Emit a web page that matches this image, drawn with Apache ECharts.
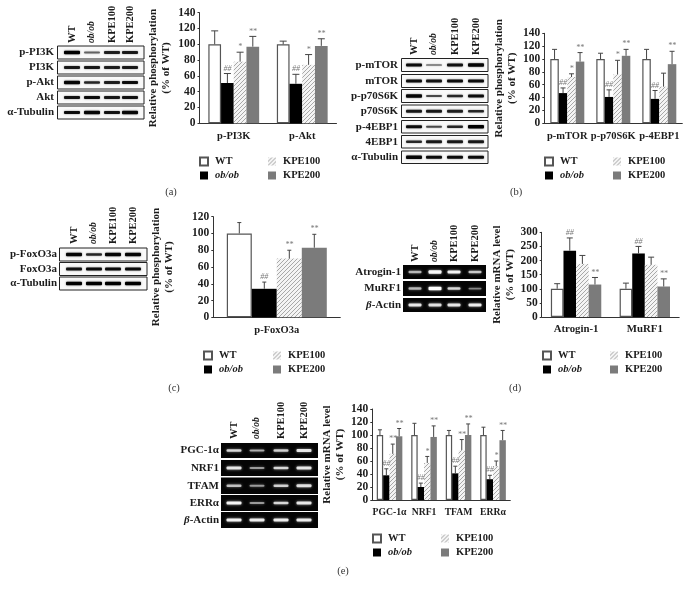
<!DOCTYPE html>
<html><head><meta charset="utf-8">
<style>html,body{margin:0;padding:0;background:#fff}#c{width:689px;height:592px}</style>
<script src="https://cdn.jsdelivr.net/npm/echarts@6/dist/echarts.min.js"></script>
</head><body><div id="c"></div>
<script>
// ---------- data ----------
var groupNames = ['WT', 'ob/ob', 'KPE100', 'KPE200'];

var catsA = ['p-PI3K', 'p-Akt'];
var wtA = [100, 100], obA = [51, 50], k100A = [78, 74], k200A = [97, 98];
var wtErrA = [117, 104], obErrA = [63, 62], k100ErrA = [90, 87], k200ErrA = [110, 107];
var obSigA = ['##', '##'], k100SigA = ['*', '*'], k200SigA = ['**', '**'];

var catsB = ['p-mTOR', 'p-p70S6K', 'p-4EBP1'];
var wtB = [100, 100, 100], obB = [47, 41, 38], k100B = [72, 76, 57], k200B = [96, 105, 92];
var wtErrB = [115, 109, 115], obErrB = [55, 52, 51], k100ErrB = [77, 98, 78], k200ErrB = [110, 115, 112];
var obSigB = ['##', '##', '##'], k100SigB = ['*', '*', ''], k200SigB = ['**', '**', '**'];

var catsC = ['p-FoxO3a'];
var wtC = [100], obC = [34], k100C = [70], k200C = [83];
var wtErrC = [113], obErrC = [42], k100ErrC = [80], k200ErrC = [99];
var obSigC = ['##'], k100SigC = ['**'], k200SigC = ['**'];

var catsD = ['Atrogin-1', 'MuRF1'];
var wtD = [100, 100], obD = [235, 225], k100D = [188, 185], k200D = [115, 108];
var wtErrD = [118, 120], obErrD = [280, 250], k100ErrD = [218, 212], k200ErrD = [140, 135];
var obSigD = ['##', '##'], k100SigD = ['', ''], k200SigD = ['**', '**'];

var catsE = ['PGC-1α', 'NRF1', 'TFAM', 'ERRα'];
var wtE = [100, 100, 100, 100], obE = [38, 20, 41, 32], k100E = [71, 57, 77, 52], k200E = [98, 97, 100, 92];
var wtErrE = [108, 118, 107, 112], obErrE = [48, 26, 52, 38], k100ErrE = [86, 67, 93, 60], k200ErrE = [110, 114, 117, 107];
var obSigE = ['##', '##', '##', '##'], k100SigE = ['**', '*', '**', '*'], k200SigE = ['**', '**', '**', '**'];

// blot band labels and band strengths (0..1) per lane
var blotLabelsA = ['p-PI3K', 'PI3K', 'p-Akt', 'Akt', 'α-Tubulin'];
var blotLevelsA = [[1, .35, .75, .8], [.8, .8, .75, .8], [.95, .7, .75, .9], [.85, .9, .8, .85], [.9, .95, .85, .95]];
var blotLabelsB = ['p-mTOR', 'mTOR', 'p-p70S6K', 'p70S6K', 'p-4EBP1', '4EBP1', 'α-Tubulin'];
var blotLevelsB = [[.9, .3, .85, .95], [.9, .85, .9, .9], [.95, .5, .7, .9], [.8, .8, .75, .7], [.9, .5, .7, 1], [.7, .8, .8, .8], [.95, .9, .9, .9]];
var blotLabelsC = ['p-FoxO3a', 'FoxO3a', 'α-Tubulin'];
var blotLevelsC = [[.95, .7, .95, .95], [.85, .9, .9, .9], [1, 1, 1, 1]];
var blotLabelsD = ['Atrogin-1', 'MuRF1', 'β-Actin'];
var blotLevelsD = [[.5, .95, .9, .6], [.5, 1, .7, .25], [.8, .75, .8, .85]];
var blotLabelsE = ['PGC-1α', 'NRF1', 'TFAM', 'ERRα', 'β-Actin'];
var blotLevelsE = [[.7, .45, .65, .8], [.8, .35, .7, .8], [.55, .35, .65, .75], [.9, .35, .7, .8], [.9, .85, .85, .85]];

// ---------- look ----------
var serif = '"Liberation Serif", serif';
var ink = '#1c1c1c';
var hatch = (function () {
  var c = document.createElement('canvas'); c.width = 4; c.height = 4;
  var g = c.getContext('2d'); g.fillStyle = '#f4f4f4'; g.fillRect(0, 0, 4, 4);
  g.strokeStyle = '#a8a8a8'; g.lineWidth = 1;
  g.beginPath(); g.moveTo(-1, 1); g.lineTo(1, -1); g.moveTo(0, 4); g.lineTo(4, 0); g.moveTo(3, 5); g.lineTo(5, 3); g.stroke();
  return c;
})();
var groupStyles = [
  { color: '#fff', borderColor: '#555', borderWidth: 1.2 },
  { color: '#000' },
  { color: { image: hatch, repeat: 'repeat' } },
  { color: '#7b7b7b' }
];

var grid = [], xAxis = [], yAxis = [], series = [], legend = [];
function panel(p) {
  var idx = grid.length;
  grid.push({ left: p.l, top: p.t, width: p.w, height: p.h });
  xAxis.push({
    type: 'category', gridIndex: idx, data: p.cats,
    axisLine: { lineStyle: { color: '#333', width: 1 } },
    axisTick: { length: 2, lineStyle: { color: '#333' } },
    axisLabel: { interval: 0, color: ink, fontFamily: serif, fontWeight: 'bold', fontSize: p.catSize, margin: 7 }
  });
  yAxis.push({
    type: 'value', gridIndex: idx, min: 0, max: p.max, interval: p.step,
    name: p.yName, nameLocation: 'middle', nameGap: p.nameGap, nameRotate: 90,
    nameTextStyle: { color: ink, fontFamily: serif, fontWeight: 'bold', fontSize: 11, lineHeight: 13 },
    splitLine: { show: false },
    axisLine: { show: true, lineStyle: { color: '#333', width: 1 } },
    axisTick: { show: true, length: 2, lineStyle: { color: '#333' } },
    axisLabel: { color: ink, fontFamily: serif, fontWeight: 'bold', fontSize: 11.5, margin: 4 }
  });
  p.vals.forEach(function (v, i) {
    series.push({
      type: 'bar', name: groupNames[i], xAxisIndex: idx, yAxisIndex: idx, data: v,
      barWidth: p.bw, barGap: 0, itemStyle: groupStyles[i], silent: true, animation: false
    });
  });
  p.vals.forEach(function (v, i) {
    series.push({
      type: 'custom', name: 'err-' + idx + '-' + i, xAxisIndex: idx, yAxisIndex: idx, z: 5, silent: true, animation: false,
      data: v.map(function (b, c) { return [c, b, p.errs[i][c]]; }),
      encode: { x: 0, y: [1, 2] },
      renderItem: function (params, api) {
        var base = api.coord([api.value(0), api.value(1)]);
        var top = api.coord([api.value(0), api.value(2)]);
        var x = base[0] + (i - 1.5) * p.bw;
        var sig = p.sigs[i] ? p.sigs[i][params.dataIndex] : '';
        var cap = p.cap;
        return { type: 'group', children: [
          { type: 'line', shape: { x1: x, y1: base[1], x2: x, y2: top[1] }, style: { stroke: '#444', lineWidth: 1 } },
          { type: 'line', shape: { x1: x - cap, y1: top[1], x2: x + cap, y2: top[1] }, style: { stroke: '#444', lineWidth: 1 } },
          { type: 'text', x: x, y: top[1] - 1, style: { text: sig || '', align: 'center', verticalAlign: 'bottom', fill: '#777', font: 'italic 8px ' + serif } }
        ] };
      }
    });
  });
  // two legend columns
  [[0, 1, p.lx[0]], [2, 3, p.lx[1]]].forEach(function (col) {
    legend.push({
      orient: 'vertical', left: col[2], top: p.ly, padding: 0, itemWidth: 8, itemHeight: 8, itemGap: 3,
      selectedMode: false, icon: 'rect',
      textStyle: { color: ink, fontFamily: serif, fontWeight: 'bold', fontSize: 10.5, padding: [0, 0, 0, 2] },
      data: [col[0], col[1]].map(function (k) {
        return { name: groupNames[k], textStyle: k === 1 ? { fontStyle: 'italic' } : {} };
      })
    });
  });
}

panel({ cats: catsA, vals: [wtA, obA, k100A, k200A], errs: [wtErrA, obErrA, k100ErrA, k200ErrA], sigs: [null, obSigA, k100SigA, k200SigA],
  l: 199.5, t: 12.7, w: 137, h: 110.6, max: 140, step: 20, bw: 12.7, cap: 3.5, catSize: 10.5, yName: 'Relative phosphorylation\n(% of WT)', nameGap: 26.5, lx: [199, 268], ly: 156 });
panel({ cats: catsB, vals: [wtB, obB, k100B, k200B], errs: [wtErrB, obErrB, k100ErrB, k200ErrB], sigs: [null, obSigB, k100SigB, k200SigB],
  l: 544.3, t: 33.3, w: 138, h: 90, max: 140, step: 20, bw: 8.5, cap: 2.5, catSize: 10.5, yName: 'Relative phosphorylation\n(% of WT)', nameGap: 26, lx: [544, 613], ly: 156 });
panel({ cats: catsC, vals: [wtC, obC, k100C, k200C], errs: [wtErrC, obErrC, k100ErrC, k200ErrC], sigs: [null, obSigC, k100SigC, k200SigC],
  l: 213.3, t: 216.7, w: 127, h: 100.6, max: 120, step: 20, bw: 25, cap: 2, catSize: 10.5, yName: 'Relative phosphorylation\n(% of WT)', nameGap: 38, lx: [203, 273], ly: 350 });
panel({ cats: catsD, vals: [wtD, obD, k100D, k200D], errs: [wtErrD, obErrD, k100ErrD, k200ErrD], sigs: [null, obSigD, k100SigD, k200SigD],
  l: 541.7, t: 232.3, w: 137.5, h: 84.7, max: 300, step: 50, bw: 12.6, cap: 3, catSize: 10.8, yName: 'Relative mRNA level\n(% of WT)', nameGap: 25, lx: [542, 610], ly: 350 });
panel({ cats: catsE, vals: [wtE, obE, k100E, k200E], errs: [wtErrE, obErrE, k100ErrE, k200ErrE], sigs: [null, obSigE, k100SigE, k200SigE],
  l: 372.3, t: 409, w: 138, h: 91, max: 140, step: 20, bw: 6.4, cap: 2, catSize: 9.7, yName: 'Relative mRNA level\n(% of WT)', nameGap: 26, lx: [372, 441], ly: 533 });

// ---------- blots and captions ----------
var g = [];
function label(txt, x, y, opts) {
  var o = opts || {};
  var rich = /^β/.test(txt);
  g.push({ type: 'text', silent: true, x: x, y: y, rotation: o.rot || 0, z: 10, style: {
    text: rich ? '{i|β}' + txt.slice(1) : txt,
    rich: rich ? { i: { font: 'italic bold ' + (o.size || 11) + 'px ' + serif, fill: ink } } : undefined,
    align: o.align || 'right', verticalAlign: 'middle', fill: o.fill || ink,
    font: (o.font || 'bold ' + (o.size || 11) + 'px ') + serif } });
}
function blot(b) {
  b.rows.forEach(function (r, ri) {
    g.push({ type: 'rect', silent: true, shape: { x: b.x, y: r[0], width: b.w, height: r[1] },
      style: { fill: b.gel ? '#050505' : '#f9f9f9', stroke: '#222', lineWidth: b.gel ? 0 : 1 } });
    label(b.labels[ri], b.labelRight, r[0] + r[1] / 2);
    b.lanes.forEach(function (lx, li) {
      var lv = b.levels[ri][li];
      var bh = b.gel ? 1.2 + 2.2 * lv : 1 + 2.4 * lv;
      g.push({ type: 'rect', silent: true,
        shape: { x: lx - b.bandW / 2, y: r[0] + r[1] / 2 - bh / 2, width: b.bandW, height: bh, r: 1 },
        style: b.gel
          ? { fill: 'rgba(255,255,255,' + (0.25 + .75 * lv) + ')', shadowBlur: 3, shadowColor: 'rgba(255,255,255,.7)' }
          : { fill: 'rgba(0,0,0,' + (0.25 + .75 * lv) + ')', shadowBlur: 2, shadowColor: 'rgba(0,0,0,.55)' } });
    });
  });
  b.lanes.forEach(function (lx, li) {
    label(groupNames[li], lx, b.headBottom, { rot: Math.PI / 2, align: 'left', size: 10.5,
      font: li === 1 ? 'italic bold 9.5px ' : undefined });
  });
}
blot({ x: 57.5, w: 86.5, labelRight: 54, bandW: 16, headBottom: 43, lanes: [72, 92, 112, 130],
  rows: [[46, 13], [61, 13], [76, 13], [91, 13], [106, 13]], labels: blotLabelsA, levels: blotLevelsA });
blot({ x: 401.5, w: 86.5, labelRight: 398, bandW: 16, headBottom: 55, lanes: [414, 434, 455, 476],
  rows: [[58.5, 13], [74.5, 13], [89.5, 13], [105, 12.5], [120.5, 12.5], [135.5, 12.5], [151, 12.5]], labels: blotLabelsB, levels: blotLevelsB });
blot({ x: 59.5, w: 87.5, labelRight: 57, bandW: 16, headBottom: 244, lanes: [74, 94, 113, 133],
  rows: [[248, 13], [262.5, 13], [277, 13]], labels: blotLabelsC, levels: blotLevelsC });
blot({ x: 403, w: 83, gel: true, labelRight: 401, bandW: 13, headBottom: 262, lanes: [415, 435, 454, 475],
  rows: [[265, 14], [281, 15], [298, 14]], labels: blotLabelsD, levels: blotLevelsD });
blot({ x: 221, w: 97, gel: true, labelRight: 219, bandW: 15, headBottom: 439, lanes: [234, 257, 281, 304],
  rows: [[443, 15], [460, 16], [477.5, 16.5], [495, 16], [512, 16]], labels: blotLabelsE, levels: blotLevelsE });

[['(a)', 171, 192], ['(b)', 516, 192], ['(c)', 174, 388], ['(d)', 515, 388], ['(e)', 343, 571]].forEach(function (c) {
  label(c[0], c[1], c[2], { align: 'center', font: '10.5px ', fill: '#333' });
});

var chart = echarts.init(document.getElementById('c'), null, { renderer: 'canvas' });
chart.setOption({ animation: false, backgroundColor: '#fff', grid: grid, xAxis: xAxis, yAxis: yAxis, series: series, legend: legend, graphic: { elements: g } });
</script></body></html>
